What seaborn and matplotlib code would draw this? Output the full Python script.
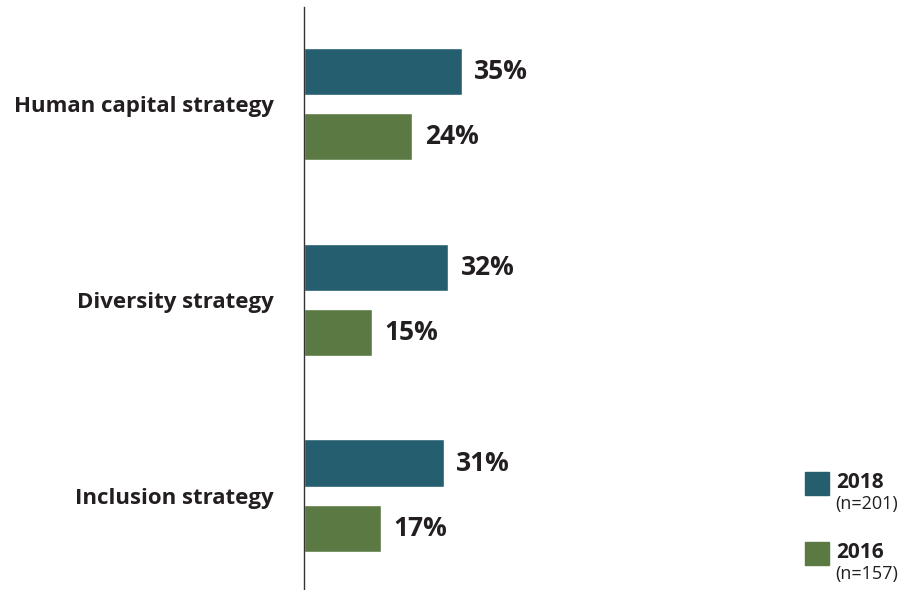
import matplotlib
matplotlib.use("Agg")
import matplotlib.pyplot as plt
from matplotlib.patches import Rectangle
import seaborn as sns
import pandas as pd

categories = ["Human capital strategy", "Diversity strategy", "Inclusion strategy"]
years = ["2018", "2016"]
sample_sizes = ["(n=201)", "(n=157)"]
values_2018 = [35, 32, 31]
values_2016 = [24, 15, 17]

colors = {"2018": "#255F6F", "2016": "#5B7A43"}

df = pd.DataFrame({
    "category": categories * 2,
    "year": ["2018"] * 3 + ["2016"] * 3,
    "value": values_2018 + values_2016,
})

sns.set_theme(style="white")
plt.rcParams["font.family"] = ["Open Sans", "DejaVu Sans"]

fig = plt.figure(figsize=(9.03, 5.90), dpi=100)
W, H = 903, 590
ax = fig.add_axes([304 / W, 0, (790 - 304) / W, (590 - 7) / H])

sns.barplot(data=df, y="category", x="value", hue="year", hue_order=years,
            palette=colors, orient="h", width=0.67, gap=0.28,
            saturation=1, legend=False, ax=ax)

ax.set_xlim(0, 486 / 4.51)
ax.set_ylim(2.48, -0.495)
ax.set_xlabel("")
ax.set_ylabel("")
ax.set_xticks([])
for side in ["top", "right", "bottom"]:
    ax.spines[side].set_visible(False)
ax.spines["left"].set_color("#333333")
ax.spines["left"].set_linewidth(1.0)
ax.tick_params(axis="y", length=0, pad=22)
for lbl in ax.get_yticklabels():
    lbl.set_fontsize(16)
    lbl.set_fontweight("bold")
    lbl.set_color("#231F20")

for container in ax.containers:
    ax.bar_label(container, labels=[f"{v:.0f}%" for v in container.datavalues],
                 padding=9, fontsize=19, fontweight="bold", color="#231F20")

# key in the lower right
for i, (yr, n) in enumerate(zip(years, sample_sizes)):
    top = 472 + i * 70
    fig.patches.append(Rectangle((805 / W, 1 - (top + 23) / H), 24 / W, 23 / H,
                                 transform=fig.transFigure, color=colors[yr]))
    fig.text(836 / W, 1 - (top + 10.5) / H, yr, fontsize=15, fontweight="bold",
             color="#231F20", va="center", ha="left")
    fig.text(835 / W, 1 - (top + 32) / H, n, fontsize=13,
             color="#231F20", va="center", ha="left")

fig.savefig("out.png", dpi=100)
